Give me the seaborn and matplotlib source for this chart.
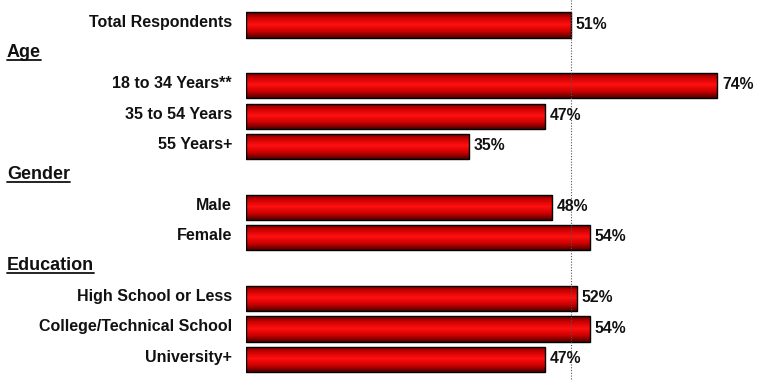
import numpy as np
import pandas as pd
import matplotlib
matplotlib.use("Agg")
import matplotlib.pyplot as plt
from matplotlib.colors import LinearSegmentedColormap
from matplotlib.lines import Line2D
import seaborn as sns

# ---- data ----
categories = ["Total Respondents", "18 to 34 Years**", "35 to 54 Years", "55 Years+",
              "Male", "Female", "High School or Less", "College/Technical School", "University+"]
groups = ["", "Age", "Age", "Age", "Gender", "Gender", "Education", "Education", "Education"]
values = [51, 74, 47, 35, 48, 54, 52, 54, 47]
value_labels = [f"{v}%" for v in values]

# build row positions: a heading row before each new group
rows, heading_rows = [], {}
r = 0
prev = None
for g in groups:
    if g and g != prev:
        heading_rows[g] = r
        r += 1
    rows.append(r)
    r += 1
    prev = g

df = pd.DataFrame({"category": categories, "value": values, "row": rows})

sns.set_theme(style="white")
plt.rcParams['font.family'] = ['Liberation Sans', 'DejaVu Sans']

fig = plt.figure(figsize=(7.64, 3.86), dpi=100)
W, H = 764, 386
x0_px, px_per_unit = 246, 6.365
xmax = (W - x0_px) / px_per_unit
ax = fig.add_axes([x0_px / W, 0, 1 - x0_px / W, 1])

sns.barplot(data=df, x="value", y="row", orient="h", native_scale=True,
            width=0.83, color="#ff0000", edgecolor="black", linewidth=1.0, ax=ax,
            errorbar=None, zorder=3)

row_px0, row_step = 25, 30.4
ax.set_ylim((H - row_px0) / row_step, -row_px0 / row_step)
ax.set_xlim(0, xmax)
ax.axis("off")

# cylinder-like gradient on bars
cmap = LinearSegmentedColormap.from_list(
    "cyl", [(0, "#600000"), (0.2, "#c80000"), (0.48, "#ff1010"), (0.75, "#cc0000"), (1, "#500000")])
grad = np.linspace(0, 1, 64).reshape(-1, 1)
for p in list(ax.patches):
    x, y = p.get_x(), p.get_y()
    w, h = p.get_width(), p.get_height()
    im = ax.imshow(grad, cmap=cmap, aspect="auto", extent=[x, x + w, y + h, y],
                   zorder=3.5, interpolation="bilinear")
    im.set_clip_path(p)
    p.set_facecolor("none")
    p.set_zorder(4)

# reference line at total
ax.plot([values[0], values[0]], [-row_px0 / row_step, (380 - row_px0) / row_step],
        color="#555555", linestyle=(0, (1, 1.5)), linewidth=0.8, zorder=5)

# value labels
for v, lab, rr in zip(values, value_labels, rows):
    ax.text(v + 5 / px_per_unit, rr - 0.03, lab, ha="left", va="center",
            fontsize=11.3, fontweight="bold", color="#111111", zorder=6)

# category labels
for c, rr in zip(categories, rows):
    ypix = row_px0 + rr * row_step - 2
    fig.text(232 / W, 1 - ypix / H, c, ha="right", va="center",
             fontsize=11.5, fontweight="bold", color="#111111")

# headings with underline
fig.canvas.draw()
renderer = fig.canvas.get_renderer()
for g, rr in heading_rows.items():
    ypix = row_px0 + rr * row_step - 3
    t = fig.text(7 / W, 1 - ypix / H, g, ha="left", va="center",
                 fontsize=13, fontweight="bold", color="#111111")
    bb = t.get_window_extent(renderer=renderer)
    yline = (bb.y0 + 0.5) / H
    fig.add_artist(Line2D([bb.x0 / W, bb.x1 / W], [yline, yline],
                          transform=fig.transFigure, color="#111111", linewidth=1.3))

fig.savefig("out.png", dpi=100)
